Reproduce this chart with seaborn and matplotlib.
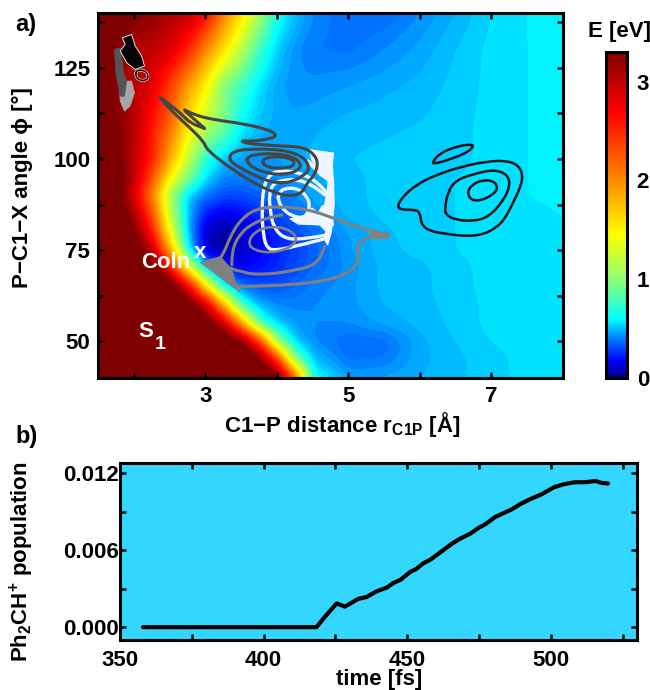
import numpy as np
import matplotlib
matplotlib.use("Agg")
import matplotlib.pyplot as plt
from matplotlib.colors import LinearSegmentedColormap, Normalize
from matplotlib.cm import ScalarMappable
from matplotlib.path import Path
from matplotlib.patches import PathPatch, Polygon
import seaborn as sns

# ---------- data ----------
r_grid = [1.5,1.75,2,2.25,2.5,2.75,3,3.25,3.5,3.75,4,4.25,4.5,5,5.5,6,6.5,7,7.5,8]
phi_grid = [40,45,50,55,60,65,70,75,80,85,90,95,100,110,120,130,140]
E40 = [3.6]*10+[3.4,2.3,.65,.45,.46,.48,.5,.53,.55,.56]
E45 = [3.6]*9+[3.4,2.45,.95,.5,.38,.39,.47,.5,.53,.55,.56]
E50 = [3.6]*8+[3.3,2.4,1.0,.5,.42,.36,.37,.47,.51,.54,.55,.56]
E55 = [3.6]*6+[3.5,2.95,1.9,.75,.5,.44,.42,.42,.46,.49,.52,.55,.56,.57]
E60 = [3.6]*5+[3.5,2.95,1.8,.7,.47,.42,.41,.42,.44,.48,.5,.52,.55,.56,.57]
E65 = [3.6]*4+[3.55,2.8,1.55,.6,.38,.33,.32,.36,.4,.44,.49,.5,.53,.55,.56,.57]
E70 = [3.6]*3+[3.5,2.7,1.45,.52,.22,.16,.19,.24,.3,.36,.43,.49,.5,.53,.55,.56,.57]
E75 = [3.6]*2+[3.5,3.0,1.85,.6,.1,.05,.1,.16,.22,.28,.34,.44,.5,.52,.54,.55,.56,.57]
E80 = [3.6]*2+[3.3,2.6,1.4,.5,.1,.04,.1,.17,.23,.3,.36,.45,.5,.53,.54,.55,.56,.57]
E85 = [3.6,3.6,3.1,2.3,1.2,.5,.2,.13,.17,.24,.3,.36,.42,.49,.52,.53,.54,.55,.56,.57]
E90 = [3.6,3.4,2.85,2.05,1.1,.52,.38,.3,.3,.34,.38,.42,.46,.5,.52,.53,.54,.55,.57,.58]
E95 = [3.6,3.5,3.0,2.3,1.5,.95,.55,.42,.4,.42,.42,.44,.47,.5,.52,.53,.54,.55,.57,.58]
E100 = [3.6,3.4,3.0,2.55,1.85,1.2,.7,.5,.45,.44,.45,.47,.49,.51,.52,.53,.53,.55,.57,.58]
E110 = [3.6,3.3,3.05,2.6,2.2,1.6,1.2,.95,.6,.5,.47,.46,.47,.49,.5,.51,.53,.55,.57,.58]
E120 = [3.6,3.2,3.0,2.85,2.4,1.9,1.5,.95,.75,.55,.46,.43,.43,.45,.47,.49,.52,.55,.57,.58]
E130 = [3.6,3.3,3.05,3.0,2.85,2.55,2.0,1.6,1.15,.75,.52,.43,.39,.38,.42,.46,.51,.55,.57,.58]
E140 = [3.6,3.4,3.3,3.2,3.1,3.0,2.7,2.05,1.6,1.1,.65,.5,.42,.36,.36,.42,.48,.54,.57,.6]
energy_rows = [E40,E45,E50,E55,E60,E65,E70,E75,E80,E85,E90,E95,E100,E110,E120,E130,E140]

# black contours (right)
black_outer = [(5.68,87.0),(5.76,89.7),(5.95,92.95),(6.23,95.7),(6.60,98.0),(6.93,99.3),(7.20,99.6),(7.37,98.4),(7.44,95.7),(7.41,92.5),(7.30,87.9),(7.18,83.4),(7.06,81.1),(6.88,79.3),(6.65,78.8),(6.37,79.5),(6.14,80.2),(6.02,82.0),(6.00,85.6),(5.90,86.1),(5.74,86.1)]
black_mid = [(6.345,86.1),(6.39,91.1),(6.51,94.3),(6.79,96.1),(7.04,97.1),(7.23,95.7),(7.26,92.5),(7.16,88.4),(6.97,84.3),(6.76,82.9),(6.48,83.4),(6.37,84.7)]
black_in = [(6.66,90.7),(6.72,92.9),(6.88,94.3),(7.04,93.9),(7.09,92.0),(7.02,90.2),(6.86,88.65),(6.72,88.65)]
black_ell = [(6.17,99.1),(6.28,101.6),(6.51,103.45),(6.74,104.1),(6.74,103),(6.60,101.2),(6.37,99.6),(6.21,98.7)]
# dark grey contours
dark_outer = [(2.32,117.9),(2.47,115.3),(2.63,113.0),(2.79,109.8),(2.98,108.5),(3.00,108.2),(2.88,110.3),(2.66,114.1),(2.84,112.1),(3.12,110.75),(3.49,109.8),(3.86,108.2),(4.01,106.6),(3.91,105.5),(3.63,104.8),(3.49,105.1),(3.58,104.2),(4.0,103.6),(4.37,103.3),(4.53,101.2),(4.58,98.4),(4.51,95.2),(4.42,93.4),(4.35,90.6),(4.18,89.75),(4.0,90.6),(3.72,92.9),(3.35,97.5),(3.02,102.5),(2.98,104.8),(2.74,109.4),(2.51,113.5)]
dark_2 = [(3.33,100.7),(3.40,102.1),(3.58,102.7),(3.91,102.7),(4.18,102.1),(4.39,100.25),(4.46,97.5),(4.39,95.7),(4.23,93.9),(4.07,93.4),(3.86,93.9),(3.58,96.6),(3.37,98.9)]
dark_3 = [(3.58,100.25),(3.67,101.2),(3.95,101.6),(4.23,100.7),(4.35,98.4),(4.28,96.6),(4.09,95.7),(3.86,96.1),(3.67,97.5),(3.58,99.3)]
dark_4 = [(3.79,99.3),(3.86,100.5),(4.07,100.7),(4.23,99.8),(4.25,98.4),(4.14,97.5),(3.95,97.5),(3.84,98.1)]
# white contours
white_1 = [(4.70,78.3),(4.35,76.5),(3.98,74.9),(3.86,75.6),(3.81,79.2),(3.79,85.6),(3.81,92.0),(3.88,95.2),(3.98,96.6),(4.16,96.8),(4.39,95.7),(4.58,93.4),(4.72,90.2)]
white_2 = [(4.70,79.2),(4.35,77.9),(4.09,78.3),(3.95,81.5),(3.91,85.6),(3.89,90.2),(3.95,93.4),(4.115,94.3),(4.30,94.3),(4.49,92.9),(4.67,90.2)]
white_3 = [(4.02,90.2),(4.09,92.0),(4.30,92.0),(4.44,89.3),(4.46,86.55),(4.39,83.8),(4.21,84.3),(4.07,86.55),(4.02,88.8)]
white_m1 = [(4.46,102.5),(4.79,101.6),(4.775,98.4),(4.79,92.5),(4.70,94.3),(4.60,95.7),(4.56,97.5),(4.49,99.8)]
white_m2 = [(4.73,95.7),(4.79,94.8),(4.80,87.5),(4.76,80.0),(4.71,76.5),(4.67,77.9),(4.70,82.0),(4.67,87.5),(4.71,92.0)]
white_m3 = [(4.39,84.3),(4.49,86.55),(4.58,85.2),(4.63,87.0),(4.74,87.9),(4.79,82.0),(4.70,80.0),(4.60,82.0),(4.30,82.2),(4.185,83.6)]
white_streak = [(4.44,99.3),(4.63,95.7)]
# grey contours
grey_1 = [(3.395,65.1),(3.67,65.1),(4.185,65.55),(4.65,66.5),(5.02,68.75),(5.16,72.4),(5.11,76.05),(5.21,77.9),(5.35,79.25),(5.53,79.25),(5.30,80.6),(5.11,81.5),(4.79,83.8),(4.46,86.1),(4.09,87.0),(3.72,86.55),(3.49,83.35),(3.35,78.8),(3.26,74.2),(3.16,71.5)]
grey_2 = [(3.37,71.0),(3.37,75.1),(3.49,79.7),(3.67,82.4),(3.86,83.8),(4.07,84.7)]
grey_loop = [(3.60,77.0),(3.67,79.7),(3.86,81.5),(4.14,81.1),(4.30,78.3),(4.185,75.6),(3.91,74.2),(3.67,75.1)]
grey_3 = [(3.35,70.1),(3.53,68.75),(3.81,68.3),(4.185,69.2),(4.56,71.0),(4.67,76.05)]
grey_blob = [(2.93,71.7),(3.21,73.3),(3.35,70.2),(3.39,68.8),(3.42,66.1),(3.49,63.4),(3.21,67.5)]
grey_tip = [(5.33,79.3),(5.53,79.3)]
# top-left cluster
tl_light = [(1.825,121.35),(1.97,121.35),(2.01,118.15),(1.95,114.5),(1.87,113.1),(1.81,115.9),(1.80,120)]
tl_dark = [(1.73,130),(1.81,130.5),(1.86,123.6),(1.90,121.35),(1.87,117.2),(1.81,117.2),(1.75,123.6)]
tl_black = [(1.84,133.2),(1.97,134.1),(2.02,131),(2.11,128.2),(2.15,125.5),(2.02,124.5),(1.90,126.4),(1.81,129.6),(1.88,131.4)]
tl_loop = [(2.04,124.5),(2.18,124.1),(2.21,121.8),(2.09,121.35),(2.02,122.7)]

# panel b
time_fs = [358,418.4,421.3,425.4,428.3,432.9,435.8,439.4,443,445.2,447.7,451,453.2,455.4,458.3,461.9,465.5,468.4,472,474.9,477,480.7,483.6,486.5,489.4,493,496.7,501,504.6,508.3,511.9,515.5,517.7,519.9]
population = [0,0,.0008,.00185,.0016,.0022,.00235,.0028,.0031,.00345,.0037,.0043,.00455,.00495,.0053,.0059,.0065,.0069,.0073,.00775,.008,.0086,.0089,.0092,.0096,.01,.01035,.0109,.01115,.0113,.0113,.0114,.01125,.0112]

# ---------- style ----------
sns.set_theme(style="ticks", rc={"text.color": "black", "axes.labelcolor": "black", "axes.edgecolor": "black",
                                 "xtick.color": "black", "ytick.color": "black"})
plt.rcParams["font.family"] = ["Liberation Sans", "DejaVu Sans"]
plt.rcParams["font.weight"] = "bold"
plt.rcParams["mathtext.fontset"] = "custom"
plt.rcParams["mathtext.rm"] = "Liberation Sans:bold"
plt.rcParams["mathtext.bf"] = "Liberation Sans:bold"
plt.rcParams["mathtext.default"] = "bf"
FS = 16

W, H = 650, 690
def rect(l, t, r, b):
    return [l/W, 1-b/H, (r-l)/W, (b-t)/H]

cmap = LinearSegmentedColormap.from_list("pes", [
    (0/3.3,"#00007f"),(0.17/3.3,"#0000ff"),(0.40/3.3,"#0080ff"),(0.60/3.3,"#00ffff"),
    (0.95/3.3,"#80ff80"),(1.45/3.3,"#ffff00"),(2.05/3.3,"#ff8000"),(2.7/3.3,"#ff0000"),(1.0,"#7f0000")], N=512)
norm = Normalize(0, 3.3)

fig = plt.figure(figsize=(6.5, 6.9), dpi=100)
ax = fig.add_axes(rect(98, 13, 563, 378))
cax = fig.add_axes(rect(606, 52, 627, 378))
bx = fig.add_axes(rect(120, 463, 637, 640))

# energy surface: the read grid, resampled and softened only for display
def soften(a, n, axis):
    k = np.ones(n)/n
    pad = [(0, 0), (0, 0)]
    pad[axis] = (n, n)
    b = np.pad(a, pad, mode="edge")
    b = np.apply_along_axis(lambda v: np.convolve(v, k, mode="same"), axis, b)
    return b[n:-n, :] if axis == 0 else b[:, n:-n]

fine_r = np.linspace(1.5, 8, 326)
fine_phi = np.linspace(40, 140, 201)
E = np.array(energy_rows, dtype=float)
E_r = np.array([np.interp(fine_r, r_grid, row) for row in E])
E_f = np.array([np.interp(fine_phi, phi_grid, col) for col in E_r.T]).T
for _ in range(2):
    E_f = soften(E_f, 7, 1)
    E_f = soften(E_f, 7, 0)
ax.contourf(fine_r, fine_phi, E_f, levels=np.arange(0, 3.31, 0.03), cmap=cmap, norm=norm, extend="both")

def curve(pts, color, lw, closed=True, z=3):
    pts = list(pts)
    if closed:
        mids = [((pts[i][0]+pts[(i+1) % len(pts)][0])/2, (pts[i][1]+pts[(i+1) % len(pts)][1])/2) for i in range(len(pts))]
        verts = [mids[-1]]
        codes = [Path.MOVETO]
        for i in range(len(pts)):
            verts += [pts[i], mids[i]]
            codes += [Path.CURVE3, Path.CURVE3]
    else:
        verts = [pts[0]]
        codes = [Path.MOVETO]
        for i in range(1, len(pts)-1):
            m = ((pts[i][0]+pts[i+1][0])/2, (pts[i][1]+pts[i+1][1])/2)
            verts += [pts[i], m]
            codes += [Path.CURVE3, Path.CURVE3]
        verts.append(pts[-1])
        codes.append(Path.LINETO)
    ax.add_patch(PathPatch(Path(verts, codes), fc="none", ec=color, lw=lw, capstyle="round", joinstyle="round", zorder=z))

def blob(pts, color, z=3, ec=None, lw=0.5):
    ax.add_patch(Polygon(pts, closed=True, fc=color, ec=ec or color, lw=lw, zorder=z, joinstyle="round"))

WHITE = "#f0f6ff"
for p in (white_1, white_2):
    curve(p, WHITE, 2.4, closed=False, z=3)
curve(white_3, WHITE, 2.4, z=3)
curve(white_streak, WHITE, 3, closed=False, z=3)
for p in (white_m1, white_m2, white_m3):
    blob(p, WHITE, z=3, lw=1)

GREY = "#808080"
curve(grey_1, GREY, 2.2, closed=False, z=4)
curve(grey_2, GREY, 2.2, closed=False, z=4)
curve(grey_loop, GREY, 1.9, z=4)
curve(grey_3, GREY, 2.2, closed=False, z=4)
blob(grey_blob, GREY, z=4)
curve(grey_tip, GREY, 5, closed=False, z=4)

DARK = "#454545"
for p in (dark_outer, dark_2, dark_3, dark_4):
    curve(p, DARK, 2.2, z=5)
for p in (black_outer, black_mid, black_in, black_ell):
    curve(p, "#101418", 1.8, z=5)

blob(tl_light, "#a6a6a6", z=3)
blob(tl_dark, "#555555", z=4)
curve(tl_loop, "white", 2.0, z=5)
curve(tl_loop, "#050505", 1.2, z=6)
blob(tl_black, "#050505", z=5, ec="white", lw=0.6)

ax.set_xlim(1.5, 8)
ax.set_ylim(40, 140)
ax.set_xticks([2, 3, 4, 5, 6, 7])
ax.set_xticklabels(["", "3", "", "5", "", "7"])
ax.set_yticks(np.arange(50, 140, 12.5))
ax.set_yticklabels(["50", "", "75", "", "100", "", "125", ""])

ax.text(2.108, 71.6, "Coln", color="white", fontsize=FS, ha="left", va="center", zorder=8)
ax.text(2.84, 74.5, "x", color="white", fontsize=FS, ha="left", va="center", zorder=8)
ax.text(2.07, 52.7, "S", color="white", fontsize=FS, ha="left", va="center", zorder=8)
ax.text(2.29, 49.1, "1", color="white", fontsize=FS-2, ha="left", va="center", zorder=8)

# colour bar
cb = fig.colorbar(ScalarMappable(norm=norm, cmap=cmap), cax=cax)
cb.set_ticks([0, 1, 2, 3])
cb.ax.tick_params(axis="y", direction="in", length=4, width=1.8, color="black",
                  labelsize=FS, pad=7, left=True, right=True)
cb.outline.set_linewidth(2.2)

# panel b
bx.set_facecolor("#33d6ff")
sns.lineplot(x=time_fs, y=population, ax=bx, color="black", lw=3.0, estimator=None, sort=False,
             solid_joinstyle="round")
bx.set_xlim(350, 530)
bx.set_ylim(-0.001, 0.0128)
bx.set_xticks(np.arange(350, 531, 25))
bx.set_xticklabels(["350", "", "400", "", "450", "", "500", ""])
bx.set_yticks(np.arange(0, 0.0121, 0.003))
bx.set_yticklabels(["0.000", "", "0.006", "", "0.012"])

for a in (ax, bx):
    a.tick_params(direction="in", length=4.5, width=1.8, top=True, right=True, bottom=True, left=True,
                  labelsize=FS, color="black")
    for s in a.spines.values():
        s.set_visible(True)
        s.set_linewidth(2.2)
        s.set_zorder(20)
    a.set_axisbelow(False)
ax.tick_params(axis="both", pad=5.5)
bx.tick_params(axis="x", pad=7)
bx.tick_params(axis="y", pad=1)

fig.text(342/W, 1-424/H, "C1\u2212P distance r$_{\\mathrm{C1P}}$ [Å]", ha="center", va="center", fontsize=FS)
fig.text(22/W, 1-188/H, "P\u2212C1\u2212X angle \u03d5 [°]", rotation=90, ha="center", va="center", fontsize=FS)
fig.text(379/W, 1-680/H, "time [fs]", ha="center", va="center", fontsize=FS)
fig.text(22/W, 1-562/H, "Ph$_2$CH$^{+}$ population", rotation=90, ha="center", va="center", fontsize=FS)
fig.text(15/W, 1-25/H, "a)", ha="left", va="center", fontsize=FS+1)
fig.text(15/W, 1-436/H, "b)", ha="left", va="center", fontsize=FS+1)
fig.text(619/W, 1-31/H, "E [eV]", ha="center", va="center", fontsize=FS)

fig.savefig("out.png", dpi=100)
